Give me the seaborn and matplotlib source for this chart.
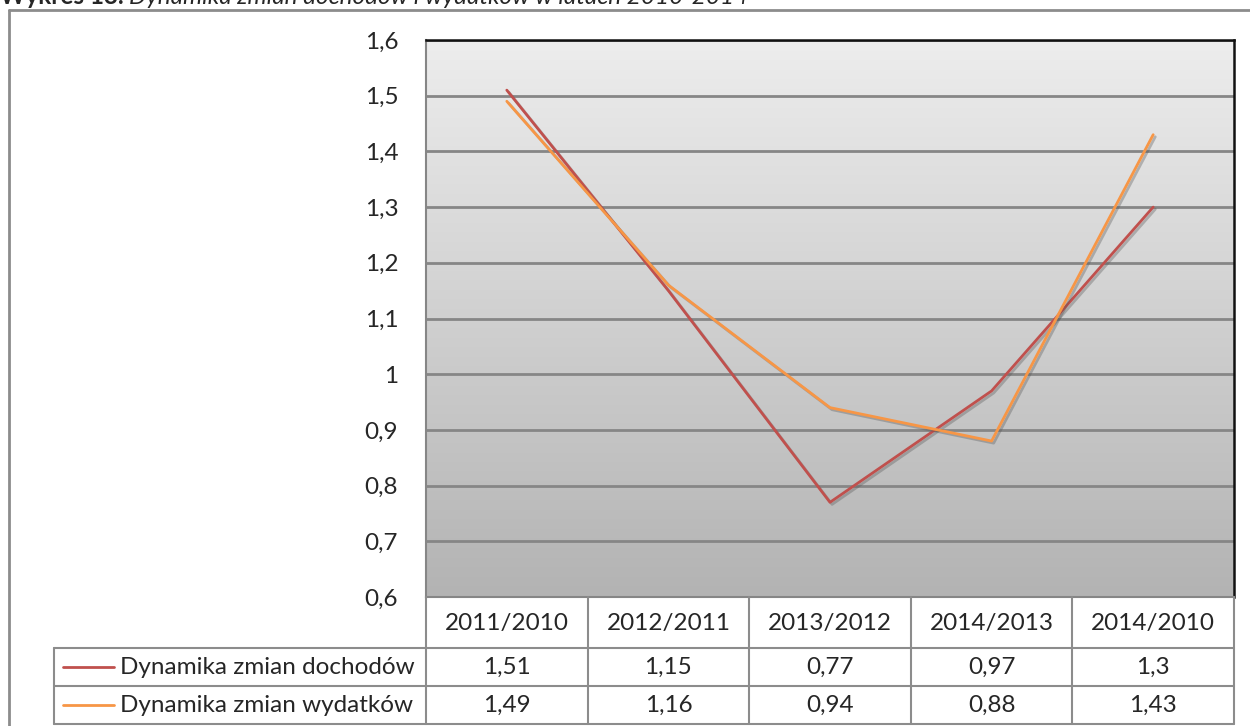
import numpy as np
import pandas as pd
import matplotlib.pyplot as plt
import matplotlib.patheffects as pe
from matplotlib.colors import LinearSegmentedColormap
from matplotlib.lines import Line2D
from matplotlib.ticker import FuncFormatter
import seaborn as sns

sns.set_style("white")
plt.rcParams["font.family"] = ["Lato", "DejaVu Sans"]

# data
periods = ["2011/2010", "2012/2011", "2013/2012", "2014/2013", "2014/2010"]
series_names = ["Dynamika zmian dochodów", "Dynamika zmian wydatków"]
dochody = [1.51, 1.15, 0.77, 0.97, 1.3]
wydatki = [1.49, 1.16, 0.94, 0.88, 1.43]
colors = ["#c0504d", "#f79646"]

W, H = 1250, 726
fs = 17.5


def fx(x):
    return x / W


def fy(y):
    return 1 - y / H


def fmt(v):
    return f"{v:g}".replace(".", ",")


df = pd.DataFrame({
    "x": list(range(len(periods))) * 2,
    "wartosc": dochody + wydatki,
    "seria": [series_names[0]] * len(periods) + [series_names[1]] * len(periods),
})

fig = plt.figure(figsize=(12.5, 7.26), dpi=100)

# plot area
left, right, top, bottom = 426, 1234, 40, 597
ax = fig.add_axes([fx(left), fy(bottom), fx(right - left), (bottom - top) / H])

# gradient background
grad = np.linspace(0, 1, 256).reshape(-1, 1)
ax.imshow(grad, cmap=LinearSegmentedColormap.from_list("g", ["#ededed", "#b3b3b3"]),
          aspect="auto", extent=[0, 1, 0, 1], transform=ax.transAxes, zorder=0)

sns.lineplot(data=df, x="x", y="wartosc", hue="seria", palette=colors,
             linewidth=2, legend=False, ax=ax, zorder=3)
for ln in ax.get_lines():
    ln.set_path_effects([pe.SimpleLineShadow(offset=(1.5, -1.5), shadow_color="#555555", alpha=0.35),
                         pe.Normal()])

ax.set_xlim(-0.5, len(periods) - 0.5)
ax.set_ylim(0.6, 1.6)
ax.set_yticks(np.arange(0.6, 1.61, 0.1))
ax.yaxis.set_major_formatter(FuncFormatter(lambda v, p: fmt(round(v, 1))))
ax.tick_params(axis="y", length=0, pad=20, labelsize=fs)
ax.set_xticks([])
ax.set_xlabel("")
ax.set_ylabel("")
ax.grid(axis="y", color="#868686", linewidth=2, zorder=1)
ax.set_axisbelow(True)
for side in ["left", "bottom"]:
    ax.spines[side].set_color("#868686")
    ax.spines[side].set_linewidth(1.5)
for side in ["top", "right"]:
    ax.spines[side].set_color("#111111")
    ax.spines[side].set_linewidth(1.8)

# data table under the chart
col_w = (right - left) / len(periods)
tab_left = 54
row_y = [597, 648, 686, 724]
lc = "#8c8c8c"


def line(x0, y0, x1, y1, c=lc, lw=1.5):
    fig.add_artist(Line2D([fx(x0), fx(x1)], [fy(y0), fy(y1)], color=c, linewidth=lw))


for yy in row_y[1:]:
    line(tab_left, yy, right, yy)
for i in range(len(periods) + 1):
    line(left + i * col_w, row_y[0], left + i * col_w, row_y[3])
line(tab_left, row_y[1], tab_left, row_y[3])

for i, p in enumerate(periods):
    cx = left + (i + 0.5) * col_w
    fig.text(fx(cx), fy((row_y[0] + row_y[1]) / 2 + 1), p, ha="center", va="center", fontsize=fs)
    fig.text(fx(cx), fy((row_y[1] + row_y[2]) / 2), fmt(dochody[i]), ha="center", va="center", fontsize=fs)
    fig.text(fx(cx), fy((row_y[2] + row_y[3]) / 2), fmt(wydatki[i]), ha="center", va="center", fontsize=fs)

for r, (name, col) in enumerate(zip(series_names, colors)):
    yc = (row_y[r + 1] + row_y[r + 2]) / 2
    line(63, yc, 114, yc, c=col, lw=2)
    fig.text(fx(120), fy(yc), name, ha="left", va="center", fontsize=fs)

# outer frame
line(9, 10, 9, 726, c="#8c8c8c", lw=2)
line(9, 10, 1250, 10, c="#8c8c8c", lw=2)

# title (cut at the top edge, as in the source)
t1 = fig.text(0.0, fy(4), "Wykres 13.", fontsize=fs, fontweight="bold", va="baseline", ha="left")
fig.canvas.draw()
bb = t1.get_window_extent()
fig.text(fx(bb.x1 + 5), fy(4), "Dynamika zmian dochodów i wydatków w latach 2010-2014",
         fontsize=fs, style="italic", va="baseline", ha="left")

fig.savefig("out.png", dpi=100)
